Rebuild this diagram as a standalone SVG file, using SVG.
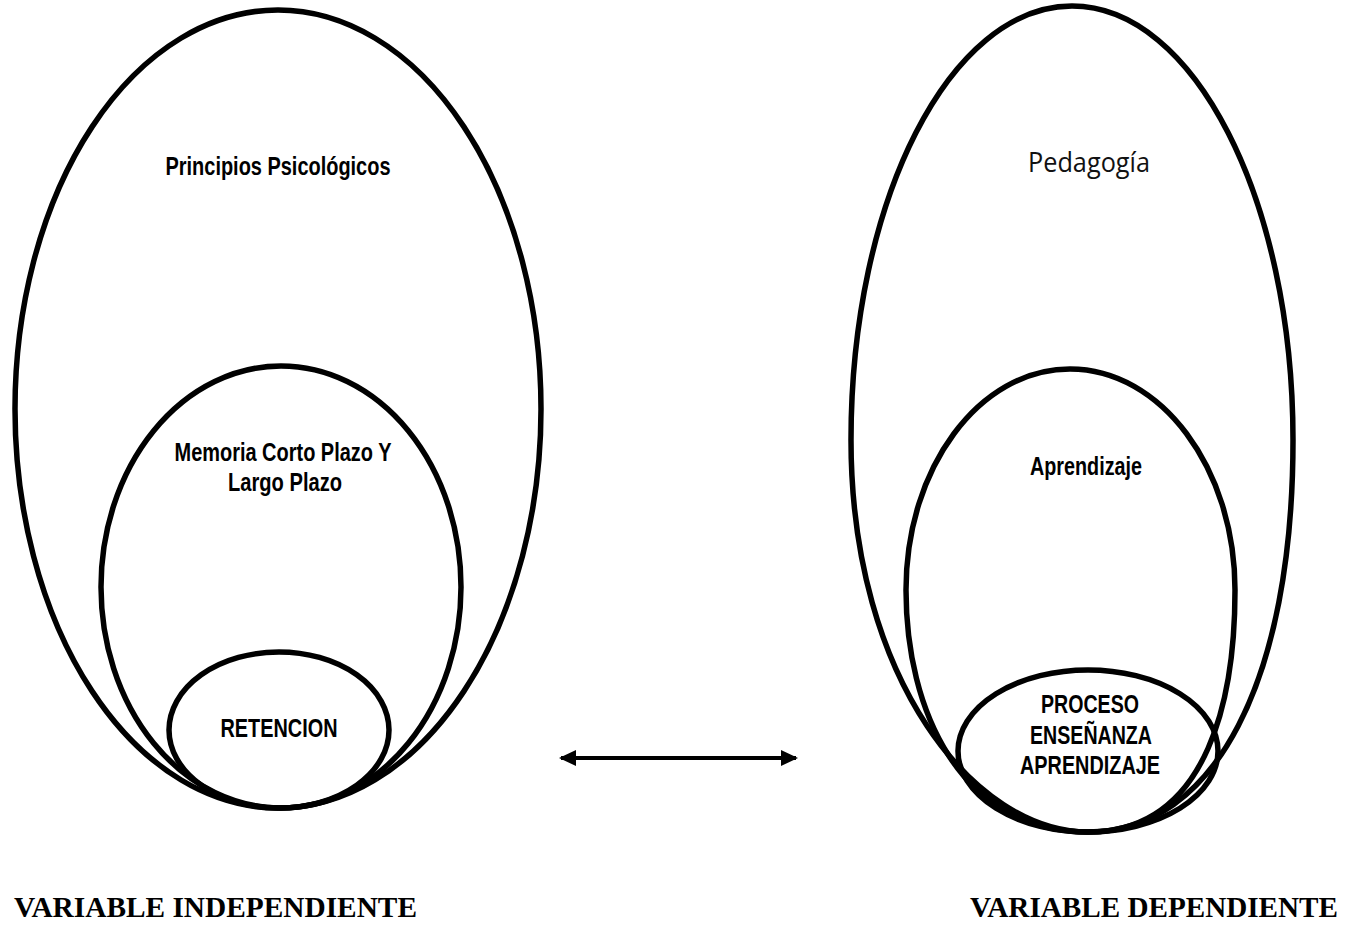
<svg xmlns="http://www.w3.org/2000/svg" width="1362" height="926" viewBox="0 0 1362 926">
<style>
.e{fill:none;stroke:#000;stroke-width:5.5}
.n{font-family:"Liberation Sans",Arial,sans-serif;font-weight:bold;font-size:26px;text-anchor:middle;fill:#000}
.p{font-family:"Open Sans","Noto Sans",sans-serif;font-size:28px;text-anchor:middle;fill:#111}
.v{font-family:"Liberation Serif","Times New Roman",serif;font-weight:bold;font-size:30px;fill:#000}
</style>
<defs>
<marker id="ah" markerWidth="17" markerHeight="16" refX="15" refY="8" orient="auto-start-reverse" markerUnits="userSpaceOnUse" viewBox="0 0 17 16">
<path d="M0,0 L17,8 L0,16 Z" fill="#000"/>
</marker>
</defs>
<rect width="1362" height="926" fill="#fff"/>
<g id="principios">
<ellipse class="e" cx="278" cy="409" rx="263" ry="399"/>
<text class="n" x="278" y="175" textLength="225" lengthAdjust="spacingAndGlyphs">Principios Psicológicos</text>
</g>
<g id="memoria">
<ellipse class="e" cx="281" cy="587" rx="180" ry="221"/>
<text class="n" x="283" y="461" textLength="217" lengthAdjust="spacingAndGlyphs">Memoria Corto Plazo Y</text>
<text class="n" x="285" y="491" textLength="114" lengthAdjust="spacingAndGlyphs">Largo Plazo</text>
</g>
<g id="retencion">
<ellipse class="e" cx="279" cy="730" rx="110" ry="78"/>
<text class="n" x="279" y="737" textLength="117" lengthAdjust="spacingAndGlyphs">RETENCION</text>
</g>
<g id="pedagogia">
<path class="e" d="M1072,6 C1194,6 1293,200 1293,440 C1293,680 1215,832 1088,832 C975,832 851,680 851,440 C851,200 950,6 1072,6 Z"/>
<text class="p" x="1089" y="172" textLength="122" lengthAdjust="spacingAndGlyphs">Pedagogía</text>
</g>
<g id="aprendizaje">
<path class="e" d="M1070,369 C1161,369 1235,468 1235,590 C1235,690 1212,832 1088,832 C960,832 906,710 906,590 C906,468 979,369 1070,369 Z"/>
<text class="n" x="1086" y="475" textLength="112" lengthAdjust="spacingAndGlyphs">Aprendizaje</text>
</g>
<g id="proceso">
<ellipse class="e" cx="1088" cy="751" rx="130" ry="81"/>
<text class="n" x="1090" y="713" textLength="98" lengthAdjust="spacingAndGlyphs">PROCESO</text>
<text class="n" x="1091" y="744" textLength="122" lengthAdjust="spacingAndGlyphs">ENSEÑANZA</text>
<text class="n" x="1090" y="774" textLength="140" lengthAdjust="spacingAndGlyphs">APRENDIZAJE</text>
</g>
<g id="connectors">
<line x1="561" y1="758" x2="796" y2="758" stroke="#000" stroke-width="4" marker-start="url(#ah)" marker-end="url(#ah)"/>
</g>
<g id="labels">
<text class="v" x="14" y="917" textLength="403" lengthAdjust="spacingAndGlyphs">VARIABLE INDEPENDIENTE</text>
<text class="v" x="970" y="917" textLength="368" lengthAdjust="spacingAndGlyphs">VARIABLE DEPENDIENTE</text>
</g>
</svg>
